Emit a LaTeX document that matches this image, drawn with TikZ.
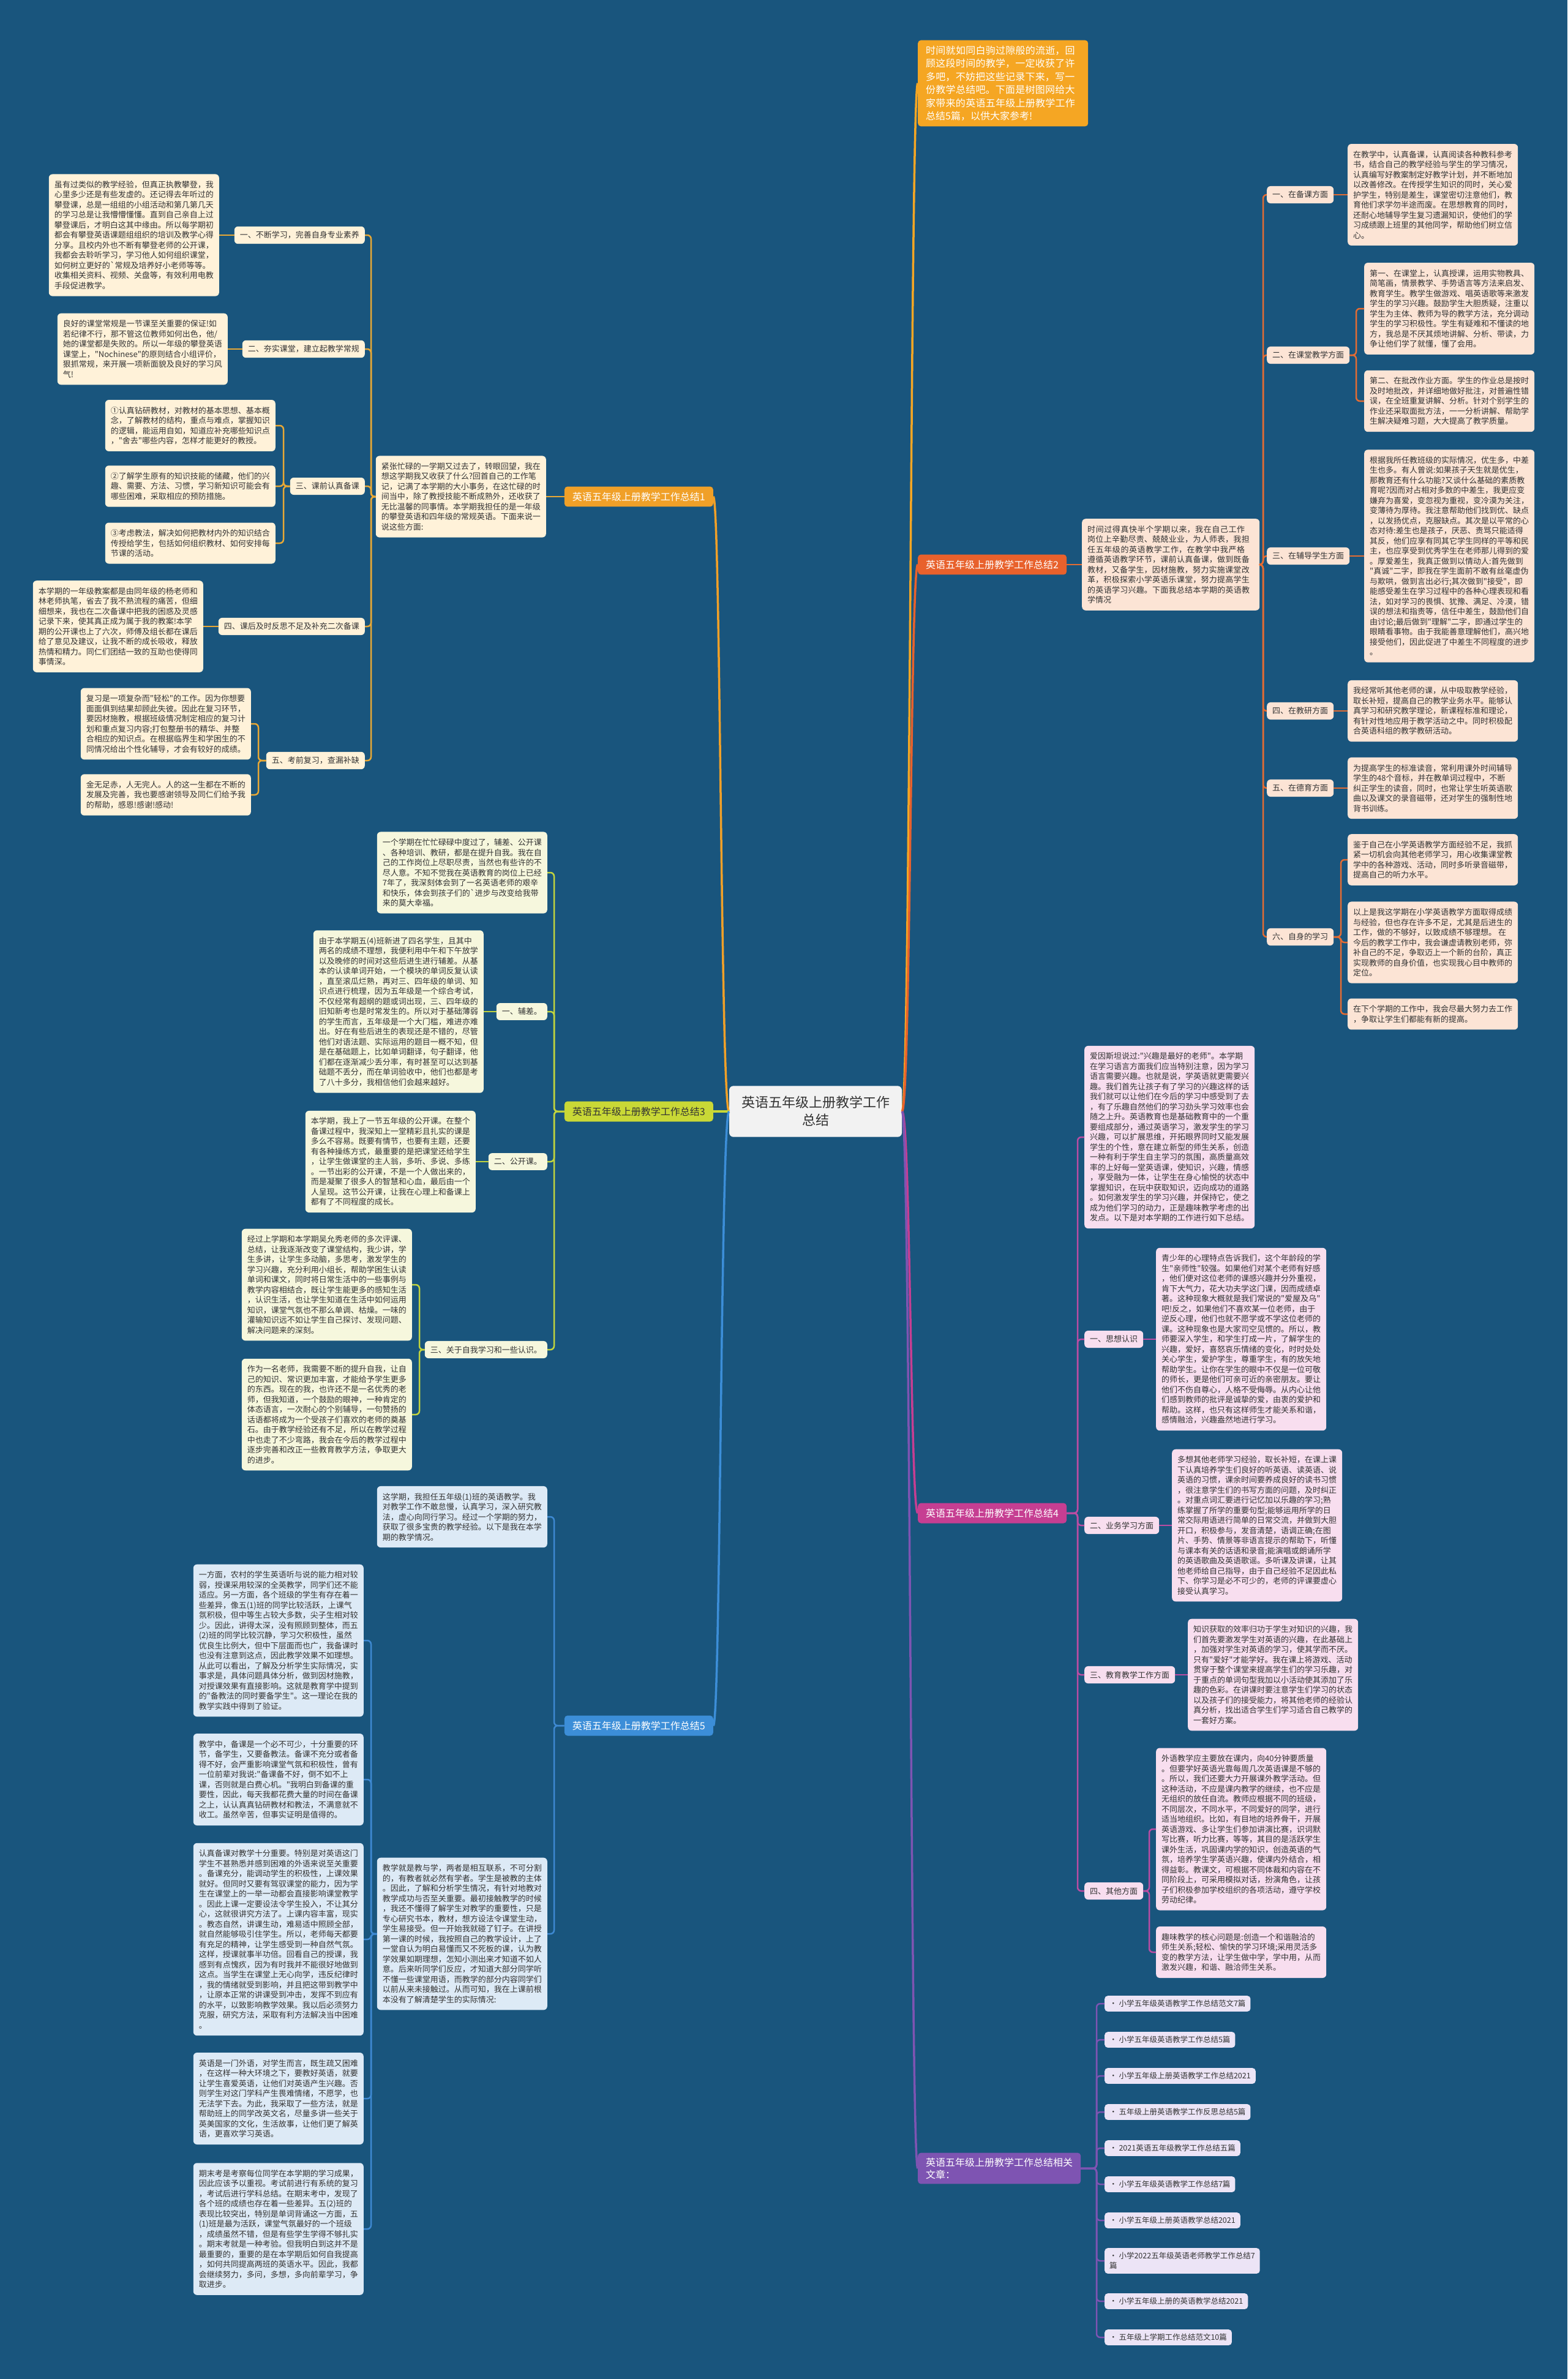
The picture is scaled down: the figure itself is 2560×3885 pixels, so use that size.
\documentclass[tikz,border=0pt]{standalone}
\usepackage{fontspec}
\newfontfamily\cjk{Noto Sans CJK SC}
\XeTeXlinebreaklocale "zh"
\XeTeXlinebreakskip=0pt plus 1pt
\definecolor{bg}{RGB}{25,85,125}
\definecolor{txt}{HTML}{333333}
\definecolor{cIntro}{HTML}{F5A623}
\definecolor{cB1}{HTML}{F0A028}
\definecolor{cB1s}{HTML}{E8A835}
\definecolor{fB1}{HTML}{FFF2D9}
\definecolor{cB2}{HTML}{E8612C}
\definecolor{cB2s}{HTML}{E46C33}
\definecolor{fB2}{HTML}{FCE4D5}
\definecolor{cB3}{HTML}{C9D836}
\definecolor{cB3s}{HTML}{C2D43E}
\definecolor{fB3}{HTML}{F6F7DD}
\definecolor{cB4}{HTML}{C63E92}
\definecolor{cB4s}{HTML}{BB4CA3}
\definecolor{fB4}{HTML}{F8DEEF}
\definecolor{cB5}{HTML}{3C8ED8}
\definecolor{cB5s}{HTML}{3E89D2}
\definecolor{fB5}{HTML}{DDEAF6}
\definecolor{cRL}{HTML}{7E54B2}
\definecolor{fRL}{HTML}{ECE4F6}
\tikzset{
  txtbox/.style={fill=#1, rounded corners=6pt, inner xsep=9pt, inner ysep=11pt, align=left, text=txt, font={\cjk\fontsize{13}{16.5}\selectfont}},
  sublab/.style={fill=#1, rounded corners=6pt, inner xsep=9pt, inner ysep=8pt, text=txt, font={\cjk\fontsize{13}{16}\selectfont}},
  mainlab/.style={fill=#1, rounded corners=5pt, inner xsep=13pt, inner ysep=9pt, text=white, align=left, font={\cjk\fontsize{16}{20}\selectfont}},
  linkbox/.style={fill=fRL, rounded corners=5pt, inner xsep=8pt, inner ysep=7pt, text=txt, align=left, font={\cjk\fontsize{12.5}{16}\selectfont}},
  hub/.style={fill=white!95!black, rounded corners=7pt, inner xsep=20pt, inner ysep=17pt, text=txt, align=center, font={\cjk\fontsize{22}{29}\selectfont}},
  mline/.style={line width=3.5pt, draw=#1},
  sline/.style={line width=2.5pt, draw=#1, rounded corners=6pt},
}
\begin{document}
\begin{tikzpicture}[x=1pt,y=-1pt]
\fill[bg] (0,0) rectangle (2560,3885);
\useasboundingbox (0,0) rectangle (2560,3885);

% ---------- center ----------
\node[hub] (C) at (1332,1815) {英语五年级上册教学工作\\总结};

% ---------- main branch labels ----------
\node[mainlab=cB1, anchor=east] (B1) at (1165,811) {英语五年级上册教学工作总结1};
\node[mainlab=cB3, anchor=east, text=txt] (B3) at (1165,1815) {英语五年级上册教学工作总结3};
\node[mainlab=cB5, anchor=east] (B5) at (1165,2818) {英语五年级上册教学工作总结5};
\node[mainlab=cIntro, anchor=west, text width=252pt, font={\cjk\fontsize{16}{21.5}\selectfont}] (IN) at (1499,136) {时间就如同白驹过隙般的流逝，回顾这段时间的教学，一定收获了许多吧，不妨把这些记录下来，写一份教学总结吧。下面是树图网给大家带来的英语五年级上册教学工作总结5篇，以供大家参考!};
\node[mainlab=cB2, anchor=west] (B2) at (1499,922) {英语五年级上册教学工作总结2};
\node[mainlab=cB4, anchor=west] (B4) at (1499,2471) {英语五年级上册教学工作总结4};
\node[mainlab=cRL, anchor=west, inner ysep=8pt] (RL) at (1499,3541) {英语五年级上册教学工作总结相关\\文章：};

% ---------- branch 1 ----------
\node[txtbox=fB1, anchor=east] (M1) at (892,811) {紧张忙碌的一学期又过去了，转眼回望，我在\\
想这学期我又收获了什么?回首自己的工作笔\\
记，记满了本学期的大小事务，在这忙碌的时\\
间当中，除了教授技能不断成熟外，还收获了\\
无比温馨的同事情。本学期我担任的是一年级\\
的攀登英语和四年级的常规英语。下面来说一\\
说这些方面:};
\node[sublab=fB1, anchor=east] (L11) at (596,384) {一、不断学习，完善自身专业素养};
\node[sublab=fB1, anchor=east] (L12) at (596,570) {二、夯实课堂，建立起教学常规};
\node[sublab=fB1, anchor=east] (L13) at (596,794) {三、课前认真备课};
\node[sublab=fB1, anchor=east] (L14) at (596,1023) {四、课后及时反思不足及补充二次备课};
\node[sublab=fB1, anchor=east] (L15) at (596,1242) {五、考前复习，查漏补缺};
\node[txtbox=fB1, anchor=east] (A1) at (358,384) {虽有过类似的教学经验，但真正执教攀登，我\\
心里多少还是有些发虚的。还记得去年听过的\\
攀登课，总是一组组的小组活动和第几第几天\\
的学习总是让我懵懵懂懂。直到自己亲自上过\\
攀登课后，才明白这其中缘由。所以每学期初\\
都会有攀登英语课题组组织的培训及教学心得\\
分享。且校内外也不断有攀登老师的公开课，\\
我都会去聆听学习，学习他人如何组织课堂，\\
如何树立更好的`常规及培养好小老师等等。\\
收集相关资料、视频、关盘等，有效利用电教\\
手段促进教学。};
\node[txtbox=fB1, anchor=east] (A2) at (372,570) {良好的课堂常规是一节课至关重要的保证!如\\
若纪律不行，那不管这位教师如何出色，他/\\
她的课堂都是失败的。所以一年级的攀登英语\\
课堂上，"Nochinese"的原则结合小组评价，\\
狠抓常规，来开展一项新面貌及良好的学习风\\
气!};
\node[txtbox=fB1, anchor=east] (A31) at (450,695) {①认真钻研教材，对教材的基本思想、基本概\\
念，了解教材的结构，重点与难点，掌握知识\\
的逻辑，能运用自如，知道应补充哪些知识点\\
，"舍去"哪些内容，怎样才能更好的教授。};
\node[txtbox=fB1, anchor=east] (A32) at (450,794) {②了解学生原有的知识技能的储藏，他们的兴\\
趣、需要、方法、习惯，学习新知识可能会有\\
哪些困难，采取相应的预防措施。};
\node[txtbox=fB1, anchor=east] (A33) at (450,887) {③考虑教法，解决如何把教材内外的知识结合\\
传授给学生，包括如何组织教材、如何安排每\\
节课的活动。};
\node[txtbox=fB1, anchor=east] (A4) at (332,1023) {本学期的一年级教案都是由同年级的杨老师和\\
林老师执笔，省去了我不熟流程的痛苦，但细\\
细想来，我也在二次备课中把我的困惑及灵感\\
记录下来，使其真正成为属于我的教案!本学\\
期的公开课也上了六次，师傅及组长都在课后\\
给了意见及建议，让我不断的成长吸收，释放\\
热情和精力。同仁们团结一致的互助也使得同\\
事情深。};
\node[txtbox=fB1, anchor=east] (A51) at (410,1182) {复习是一项复杂而"轻松"的工作。因为你想要\\
面面俱到结果却顾此失彼。因此在复习环节，\\
要因材施教，根据班级情况制定相应的复习计\\
划和重点复习内容;打包整册书的精华、并整\\
合相应的知识点。在根据临界生和学困生的不\\
同情况给出个性化辅导，才会有较好的成绩。};
\node[txtbox=fB1, anchor=east] (A52) at (410,1298) {金无足赤，人无完人。人的这一生都在不断的\\
发展及完善，我也要感谢领导及同仁们给予我\\
的帮助，感恩!感谢!感动!};

% ---------- branch 3 ----------
\node[txtbox=fB3, anchor=east] (F3) at (894,1425) {一个学期在忙忙碌碌中度过了，辅差、公开课\\
、各种培训、教研，都是在提升自我。我在自\\
己的工作岗位上尽职尽责，当然也有些许的不\\
尽人意。不知不觉我在英语教育的岗位上已经\\
7年了，我深刻体会到了一名英语老师的艰辛\\
和快乐，体会到孩子们的`进步与改变给我带\\
来的莫大幸福。};
\node[sublab=fB3, anchor=east] (L31) at (894,1652) {一、辅差。};
\node[sublab=fB3, anchor=east] (L32) at (894,1897) {二、公开课。};
\node[sublab=fB3, anchor=east] (L33) at (894,2204) {三、关于自我学习和一些认识。};
\node[txtbox=fB3, anchor=east] (G1) at (790,1652) {由于本学期五(4)班新进了四名学生，且其中\\
两名的成绩不理想，我便利用中午和下午放学\\
以及晚修的时间对这些后进生进行辅差。从基\\
本的认读单词开始，一个模块的单词反复认读\\
，直至滚瓜烂熟，再对三、四年级的单词、知\\
识点进行梳理，因为五年级是一个综合考试，\\
不仅经常有超纲的题或词出现，三、四年级的\\
旧知新考也是时常发生的。所以对于基础薄弱\\
的学生而言，五年级是一个大门槛，难进亦难\\
出。好在有些后进生的表现还是不错的，尽管\\
他们对语法题、实际运用的题目一概不知，但\\
是在基础题上，比如单词翻译，句子翻译，他\\
们都在逐渐减少丢分率，有时甚至可以达到基\\
础题不丢分，而在单词验收中，他们也都是考\\
了八十多分，我相信他们会越来越好。};
\node[txtbox=fB3, anchor=east] (G2) at (777,1897) {本学期，我上了一节五年级的公开课。在整个\\
备课过程中，我深知上一堂精彩且扎实的课是\\
多么不容易。既要有情节，也要有主题，还要\\
有各种操练方式，最重要的是把课堂还给学生\\
，让学生做课堂的主人翁，多听、多说、多练\\
。一节出彩的公开课，不是一个人做出来的，\\
而是凝聚了很多人的智慧和心血，最后由一个\\
人呈现。这节公开课，让我在心理上和备课上\\
都有了不同程度的成长。};
\node[txtbox=fB3, anchor=east] (H1) at (673,2098) {经过上学期和本学期吴允秀老师的多次评课、\\
总结，让我逐渐改变了课堂结构，我少讲，学\\
生多讲，让学生多动脑，多思考，激发学生的\\
学习兴趣，充分利用小组长，帮助学困生认读\\
单词和课文，同时将日常生活中的一些事例与\\
教学内容相结合，既让学生能更多的感知生活\\
，认识生活，也让学生知道在生活中如何运用\\
知识，课堂气氛也不那么单调、枯燥。一味的\\
灌输知识远不如让学生自己探讨、发现问题、\\
解决问题来的深刻。};
\node[txtbox=fB3, anchor=east] (H2) at (673,2310) {作为一名老师，我需要不断的提升自我，让自\\
己的知识、常识更加丰富，才能给予学生更多\\
的东西。现在的我，也许还不是一名优秀的老\\
师，但我知道，一个鼓励的眼神，一种肯定的\\
体态语言，一次耐心的个别辅导，一句赞扬的\\
话语都将成为一个受孩子们喜欢的老师的奠基\\
石。由于教学经验还有不足，所以在教学过程\\
中也走了不少弯路，我会在今后的教学过程中\\
逐步完善和改正一些教育教学方法，争取更大\\
的进步。};

% ---------- branch 5 ----------
\node[txtbox=fB5, anchor=east] (J5) at (894,2477) {这学期，我担任五年级(1)班的英语教学。我\\
对教学工作不敢怠慢，认真学习，深入研究教\\
法，虚心向同行学习。经过一个学期的努力，\\
获取了很多宝贵的教学经验。以下是我在本学\\
期的教学情况。};
\node[txtbox=fB5, anchor=east] (L5m) at (894,3158) {教学就是教与学，两者是相互联系，不可分割\\
的，有教者就必然有学者。学生是被教的主体\\
。因此，了解和分析学生情况，有针对地教对\\
教学成功与否至关重要。最初接触教学的时候\\
，我还不懂得了解学生对教学的重要性，只是\\
专心研究书本，教材，想方设法令课堂生动，\\
学生易接受。但一开始我就碰了钉子。在讲授\\
第一课的时候，我按照自己的教学设计，上了\\
一堂自认为明白易懂而又不死板的课，认为教\\
学效果如期理想，怎知小测出来才知道不如人\\
意。后来听同学们反应，才知道大部分同学听\\
不懂一些课堂用语，而教学的部分内容同学们\\
以前从来未接触过。从而可知，我在上课前根\\
本没有了解清楚学生的实际情况:};
\node[txtbox=fB5, anchor=east] (K1) at (594,2679) {一方面，农村的学生英语听与说的能力相对较\\
弱，授课采用较深的全英教学，同学们还不能\\
适应。另一方面，各个班级的学生有存在着一\\
些差异，像五(1)班的同学比较活跃，上课气\\
氛积极，但中等生占较大多数，尖子生相对较\\
少。因此，讲得太深，没有照顾到整体，而五\\
(2)班的同学比较沉静，学习欠积极性，虽然\\
优良生比例大，但中下层面而也广，我备课时\\
也没有注意到这点，因此教学效果不如理想。\\
从此可以看出，了解及分析学生实际情况，实\\
事求是，具体问题具体分析，做到因材施教，\\
对授课效果有直接影响。这就是教育学中提到\\
的"备教法的同时要备学生"。这一理论在我的\\
教学实践中得到了验证。};
\node[txtbox=fB5, anchor=east] (K2) at (594,2906) {教学中，备课是一个必不可少，十分重要的环\\
节，备学生，又要备教法。备课不充分或者备\\
得不好，会严重影响课堂气氛和积极性，曾有\\
一位前辈对我说:"备课备不好，倒不如不上\\
课，否则就是白费心机。"我明白到备课的重\\
要性，因此，每天我都花费大量的时间在备课\\
之上，认认真真钻研教材和教法，不满意就不\\
收工。虽然辛苦，但事实证明是值得的。};
\node[txtbox=fB5, anchor=east] (K3) at (594,3167) {认真备课对教学十分重要。特别是对英语这门\\
学生不甚熟悉并感到困难的外语来说至关重要\\
。备课充分，能调动学生的积极性，上课效果\\
就好。但同时又要有驾驭课堂的能力，因为学\\
生在课堂上的一举一动都会直接影响课堂教学\\
。因此上课一定要设法令学生投入，不让其分\\
心，这就很讲究方法了。上课内容丰富，现实\\
。教态自然，讲课生动，难易适中照顾全部，\\
就自然能够吸引住学生。所以，老师每天都要\\
有充足的精神，让学生感受到一种自然气氛。\\
这样，授课就事半功倍。回看自己的授课，我\\
感到有点愧疚，因为有时我并不能很好地做到\\
这点。当学生在课堂上无心向学，违反纪律时\\
，我的情绪就受到影响，并且把这带到教学中\\
，让原本正常的讲课受到冲击，发挥不到应有\\
的水平，以致影响教学效果。我以后必须努力\\
克服，研究方法，采取有利方法解决当中困难\\
。};
\node[txtbox=fB5, anchor=east] (K4) at (594,3427) {英语是一门外语，对学生而言，既生疏又困难\\
，在这样一种大环境之下，要教好英语，就要\\
让学生喜爱英语，让他们对英语产生兴趣。否\\
则学生对这门学科产生畏难情绪，不愿学，也\\
无法学下去。为此，我采取了一些方法，就是\\
帮助班上的同学改英文名，尽量多讲一些关于\\
英美国家的文化，生活故事，让他们更了解英\\
语，更喜欢学习英语。};
\node[txtbox=fB5, anchor=east] (K5) at (594,3640) {期末考是考察每位同学在本学期的学习成果，\\
因此应该予以重视。考试前进行有系统的复习\\
，考试后进行学科总结。在期末考中，发现了\\
各个班的成绩也存在着一些差异。五(2)班的\\
表现比较突出，特别是单词背诵这一方面，五\\
(1)班是最为活跃，课堂气氛最好的一个班级\\
，成绩虽然不错，但是有些学生学得不够扎实\\
。期末考就是一种考验。但我明白到这并不是\\
最重要的，重要的是在本学期后如何自我提高\\
，如何共同提高两班的英语水平。因此，我都\\
会继续努力，多问，多想，多向前辈学习，争\\
取进步。};

% ---------- branch 2 ----------
\node[txtbox=fB2, anchor=west, text width=272pt] (M2) at (1767,922) {时间过得真快半个学期以来，我在自己工作岗位上辛勤尽责、兢兢业业，为人师表，我担任五年级的英语教学工作，在教学中我严格遵循英语教学环节，课前认真备课，做到既备教材，又备学生，因材施教，努力实施课堂改革，积极探索小学英语乐课堂，努力提高学生的英语学习兴趣。下面我总结本学期的英语教学情况};
\node[sublab=fB2, anchor=west] (L21) at (2069,318) {一、在备课方面};
\node[sublab=fB2, anchor=west] (L22) at (2069,580) {二、在课堂教学方面};
\node[sublab=fB2, anchor=west] (L23) at (2069,908) {三、在辅导学生方面};
\node[sublab=fB2, anchor=west] (L24) at (2069,1161) {四、在教研方面};
\node[sublab=fB2, anchor=west] (L25) at (2069,1287) {五、在德育方面};
\node[sublab=fB2, anchor=west] (L26) at (2069,1530) {六、自身的学习};
\node[txtbox=fB2, anchor=west] (T1) at (2201,318) {在教学中，认真备课，认真阅读各种教科参考\\
书，结合自己的教学经验与学生的学习情况，\\
认真编写好教案制定好教学计划，并不断地加\\
以改善修改。在传授学生知识的同时，关心爱\\
护学生，特别是差生，课堂密切注意他们，教\\
育他们求学勿半途而废。在思想教育的同时，\\
还耐心地辅导学生复习遗漏知识，使他们的学\\
习成绩跟上班里的其他同学，帮助他们树立信\\
心。};
\node[txtbox=fB2, anchor=west] (T2a) at (2228,504) {第一、在课堂上，认真授课，运用实物教具、\\
简笔画，情景教学、手势语言等方法来启发、\\
教育学生。教学生做游戏、唱英语歌等来激发\\
学生的学习兴趣。鼓励学生大胆质疑，注重以\\
学生为主体、教师为导的教学方法，充分调动\\
学生的学习积极性。学生有疑难和不懂读的地\\
方，我总是不厌其烦地讲解、分析、带读，力\\
争让他们学了就懂，懂了会用。};
\node[txtbox=fB2, anchor=west] (T2b) at (2228,655) {第二、在批改作业方面。学生的作业总是按时\\
及时地批改，并详细地做好批注，对普遍性错\\
误，在全班重复讲解、分析。针对个别学生的\\
作业还采取面批方法，一一分析讲解、帮助学\\
生解决疑难习题，大大提高了教学质量。};
\node[txtbox=fB2, anchor=west] (T3) at (2228,908) {根据我所任教班级的实际情况，优生多，中差\\
生也多。有人曾说:如果孩子天生就是优生，\\
那教育还有什么功能?又谈什么基础的素质教\\
育呢?因而对占相对多数的中差生，我更应变\\
嫌弃为喜爱，变忽视为重视，变冷漠为关注，\\
变薄待为厚待。我注意帮助他们找到优、缺点\\
，以发扬优点，克服缺点。其次是以平常的心\\
态对待:差生也是孩子，厌恶、责骂只能适得\\
其反，他们应享有同其它学生同样的平等和民\\
主，也应享受到优秀学生在老师那儿得到的爱\\
。厚爱差生，我真正做到以情动人:首先做到\\
"真诚"二字，即我在学生面前不敢有丝毫虚伪\\
与欺哄，做到言出必行;其次做到"接受"，即\\
能感受差生在学习过程中的各种心理表现和看\\
法，如对学习的畏惧、犹豫、满足、冷漠，错\\
误的想法和指责等，信任中差生，鼓励他们自\\
由讨论;最后做到"理解"二字，即通过学生的\\
眼睛看事物。由于我能善意理解他们，高兴地\\
接受他们，因此促进了中差生不同程度的进步\\
。};
\node[txtbox=fB2, anchor=west] (T4) at (2201,1161) {我经常听其他老师的课，从中吸取教学经验，\\
取长补短，提高自己的教学业务水平。能够认\\
真学习和研究教学理论，新课程标准和理论，\\
有针对性地应用于教学活动之中。同时积极配\\
合英语科组的教学教研活动。};
\node[txtbox=fB2, anchor=west] (T5) at (2201,1287) {为提高学生的标准读音，常利用课外时间辅导\\
学生的48个音标，并在教单词过程中，不断\\
纠正学生的读音，同时，也常让学生听英语歌\\
曲以及课文的录音磁带，还对学生的强制性地\\
背书训练。};
\node[txtbox=fB2, anchor=west] (T6a) at (2201,1404) {鉴于自己在小学英语教学方面经验不足，我抓\\
紧一切机会向其他老师学习，用心收集课堂教\\
学中的各种游戏、活动，同时多听录音磁带，\\
提高自己的听力水平。};
\node[txtbox=fB2, anchor=west] (T6b) at (2201,1539) {以上是我这学期在小学英语教学方面取得成绩\\
与经验，但也存在许多不足，尤其是后进生的\\
工作，做的不够好，以致成绩不够理想。 在\\
今后的教学工作中，我会谦虚请教别老师，弥\\
补自己的不足，争取迈上一个新的台阶，真正\\
实现教师的自身价值，也实现我心目中教师的\\
定位。};
\node[txtbox=fB2, anchor=west] (T6c) at (2201,1656) {在下个学期的工作中，我会尽最大努力去工作\\
，争取让学生们都能有新的提高。};

% ---------- branch 4 ----------
\node[txtbox=fB4, anchor=west] (Mm) at (1771,1857) {爱因斯坦说过:"兴趣是最好的老师"。本学期\\
在学习语言方面我们应当特别注意，因为学习\\
语言需要兴趣。也就是说，学英语就更需要兴\\
趣。我们首先让孩子有了学习的兴趣这样的话\\
我们就可以让他们在今后的学习中感受到了去\\
，有了乐趣自然他们的学习劲头学习效率也会\\
随之上升。英语教育也是基础教育中的一个重\\
要组成部分，通过英语学习，激发学生的学习\\
兴趣，可以扩展思维，开拓眼界同时又能发展\\
学生的个性，意在建立新型的师生关系，创造\\
一种有利于学生自主学习的氛围，高质量高效\\
率的上好每一堂英语课，使知识，兴趣，情感\\
，享受融为一体，让学生在身心愉悦的状态中\\
掌握知识，在玩中获取知识，迈向成功的道路\\
。如何激发学生的学习兴趣，并保持它，使之\\
成为他们学习的动力，正是趣味教学考虑的出\\
发点。以下是对本学期的工作进行如下总结。};
\node[sublab=fB4, anchor=west] (L41) at (1771,2187) {一、思想认识};
\node[sublab=fB4, anchor=west] (L42) at (1771,2491) {二、业务学习方面};
\node[sublab=fB4, anchor=west] (L43) at (1771,2735) {三、教育教学工作方面};
\node[sublab=fB4, anchor=west] (L44) at (1771,3088) {四、其他方面};
\node[txtbox=fB4, anchor=west] (N4) at (1888,2187) {青少年的心理特点告诉我们，这个年龄段的学\\
生"亲师性"较强。如果他们对某个老师有好感\\
，他们便对这位老师的课感兴趣并分外重视，\\
肯下大气力，花大功夫学这门课，因而成绩卓\\
著。这种现象大概就是我们常说的"爱屋及乌"\\
吧!反之，如果他们不喜欢某一位老师，由于\\
逆反心理，他们也就不愿学或不学这位老师的\\
课。这种现象也是大家司空见惯的。所以，教\\
师要深入学生，和学生打成一片，了解学生的\\
兴趣，爱好，喜怒哀乐情绪的变化，时时处处\\
关心学生，爱护学生，尊重学生，有的放矢地\\
帮助学生。让你在学生的眼中不仅是一位可敬\\
的师长，更是他们可亲可近的亲密朋友。要让\\
他们不伤自尊心，人格不受侮辱。从内心让他\\
们感到教师的批评是诚挚的爱，由衷的爱护和\\
帮助。这样，也只有这样师生才能关系和谐，\\
感情融洽，兴趣盎然地进行学习。};
\node[txtbox=fB4, anchor=west] (O4) at (1914,2491) {多想其他老师学习经验，取长补短，在课上课\\
下认真培养学生们良好的听英语、读英语、说\\
英语的习惯，课余时间要养成良好的读书习惯\\
，很注意学生们的书写方面的问题，及时纠正\\
。对重点词汇要进行记忆加以乐趣的学习;熟\\
练掌握了所学的重要句型;能够运用所学的日\\
常交际用语进行简单的日常交流，并做到大胆\\
开口，积极参与，发音清楚，语调正确;在图\\
片、手势、情景等非语言提示的帮助下，听懂\\
与课本有关的话语和录音;能演唱或朗诵所学\\
的英语歌曲及英语歌谣。多听课及讲课，让其\\
他老师给自己指导，由于自己经验不足因此私\\
下、你学习是必不可少的，老师的评课要虚心\\
接受认真学习。};
\node[txtbox=fB4, anchor=west] (P4) at (1940,2735) {知识获取的效率归功于学生对知识的兴趣，我\\
们首先要激发学生对英语的兴趣，在此基础上\\
，加强对学生对英语的学习，使其学而不厌。\\
只有"爱好"才能学好。我在课上将游戏、活动\\
贯穿于整个课堂来提高学生们的学习乐趣，对\\
于重点的单词句型我加以小活动使其添加了乐\\
趣的色彩。在讲课时要注意学生们学习的状态\\
以及孩子们的接受能力，将其他老师的经验认\\
真分析，找出适合学生们学习适合自己教学的\\
一套好方案。};
\node[txtbox=fB4, anchor=west] (Q4) at (1888,2987) {外语教学应主要放在课内，向40分钟要质量\\
。但要学好英语光靠每周几次英语课是不够的\\
。所以，我们还要大力开展课外教学活动。但\\
这种活动，不应是课内教学的继续，也不应是\\
无组织的放任自流。教师应根据不同的班级，\\
不同层次，不同水平，不同爱好的同学，进行\\
适当地组织。比如，有目地的培养骨干，开展\\
英语游戏、多让学生们参加讲演比赛，识词默\\
写比赛，听力比赛，等等，其目的是活跃学生\\
课外生活，巩固课内学的知识，创造英语的气\\
氛，培养学生学英语兴趣，使课内外结合，相\\
得益彰。教课文，可根据不同体裁和内容在不\\
同阶段上，可采用模拟对话，扮演角色，让孩\\
子们积极参加学校组织的各项活动，遵守学校\\
劳动纪律。};
\node[txtbox=fB4, anchor=west] (R4) at (1888,3188) {趣味教学的核心问题是:创造一个和谐融洽的\\
师生关系;轻松、愉快的学习环境;采用灵活多\\
变的教学方法，让学生做中学，学中用，从而\\
激发兴趣，和谐、融洽师生关系。};

% ---------- related links ----------
\node[linkbox, anchor=west] (K01) at (1804,3272) {• 小学五年级英语教学工作总结范文7篇};
\node[linkbox, anchor=west] (K02) at (1804,3331) {• 小学五年级英语教学工作总结5篇};
\node[linkbox, anchor=west] (K03) at (1804,3390) {• 小学五年级上册英语教学工作总结2021};
\node[linkbox, anchor=west] (K04) at (1804,3449) {• 五年级上册英语教学工作反思总结5篇};
\node[linkbox, anchor=west] (K05) at (1804,3508) {• 2021英语五年级教学工作总结五篇};
\node[linkbox, anchor=west] (K06) at (1804,3567) {• 小学五年级英语教学工作总结7篇};
\node[linkbox, anchor=west] (K07) at (1804,3626) {• 小学五年级上册英语教学总结2021};
\node[linkbox, anchor=west] (K08) at (1804,3692) {• 小学2022五年级英语老师教学工作总结7\\篇};
\node[linkbox, anchor=west] (K09) at (1804,3758) {• 小学五年级上册的英语教学总结2021};
\node[linkbox, anchor=west] (K10) at (1804,3817) {• 五年级上学期工作总结范文10篇};

% ---------- connectors: center ----------
\draw[mline=cB1] (C.west) .. controls (1177,1815) and (1177,811) .. (B1.east);
\draw[mline=cB3] (C.west) -- (B3.east);
\draw[mline=cB5] (C.west) .. controls (1177,1815) and (1177,2818) .. (B5.east);
\draw[mline=cIntro] (C.east) .. controls (1487,1815) and (1487,136) .. (IN.west);
\draw[mline=cB2] (C.east) .. controls (1487,1815) and (1487,922) .. (B2.east -| B2.west);
\draw[mline=cB4] (C.east) .. controls (1487,1815) and (1487,2471) .. (B4.west);
\draw[mline=cRL] (C.east) .. controls (1487,1815) and (1487,3541) .. (RL.west);

% ---------- connectors: branch 1 ----------
\draw[sline=cB1s] (B1.west) -- (M1.east);
\foreach \t in {L11,L12,L13,L14,L15} \draw[sline=cB1s] (M1.west) -- (606,811) |- (\t.east);
\draw[sline=cB1s] (L11.west) -- (A1.east);
\draw[sline=cB1s] (L12.west) -- (A2.east);
\foreach \t in {A31,A32,A33} \draw[sline=cB1s] (L13.west) -- (463,794) |- (\t.east);
\draw[sline=cB1s] (L14.west) -- (A4.east);
\foreach \t in {A51,A52} \draw[sline=cB1s] (L15.west) -- (422,1242) |- (\t.east);

% ---------- connectors: branch 3 ----------
\foreach \t in {F3,L31,L32,L33} \draw[sline=cB3s] (B3.west) -- (905,1815) |- (\t.east);
\draw[sline=cB3s] (L31.west) -- (G1.east);
\draw[sline=cB3s] (L32.west) -- (G2.east);
\foreach \t in {H1,H2} \draw[sline=cB3s] (L33.west) -- (685,2204) |- (\t.east);

% ---------- connectors: branch 5 ----------
\foreach \t in {J5,L5m} \draw[sline=cB5s] (B5.west) -- (905,2818) |- (\t.east);
\foreach \t in {K1,K2,K3,K4,K5} \draw[sline=cB5s] (L5m.west) -- (606,3158) |- (\t.east);

% ---------- connectors: branch 2 ----------
\draw[sline=cB2s] (B2.east) -- (M2.west);
\foreach \t in {L21,L22,L23,L24,L25,L26} \draw[sline=cB2s] (M2.east) -- (2063,922) |- (\t.west);
\draw[sline=cB2s] (L21.east) -- (T1.west);
\foreach \t in {T2a,T2b} \draw[sline=cB2s] (L22.east) -- (2215,580) |- (\t.west);
\draw[sline=cB2s] (L23.east) -- (T3.west);
\draw[sline=cB2s] (L24.east) -- (T4.west);
\draw[sline=cB2s] (L25.east) -- (T5.west);
\foreach \t in {T6a,T6b,T6c} \draw[sline=cB2s] (L26.east) -- (2190,1530) |- (\t.west);

% ---------- connectors: branch 4 ----------
\foreach \t in {Mm,L41,L42,L43,L44} \draw[sline=cB4s] (B4.east) -- (1760,2471) |- (\t.west);
\draw[sline=cB4s] (L41.east) -- (N4.west);
\draw[sline=cB4s] (L42.east) -- (O4.west);
\draw[sline=cB4s] (L43.east) -- (P4.west);
\foreach \t in {Q4,R4} \draw[sline=cB4s] (L44.east) -- (1877,3088) |- (\t.west);

% ---------- connectors: related ----------
\foreach \t in {K01,K02,K03,K04,K05,K06,K07,K08,K09,K10} \draw[sline=cRL] (RL.east) -- (1791,3541) |- (\t.west);
\end{tikzpicture}
\end{document}
